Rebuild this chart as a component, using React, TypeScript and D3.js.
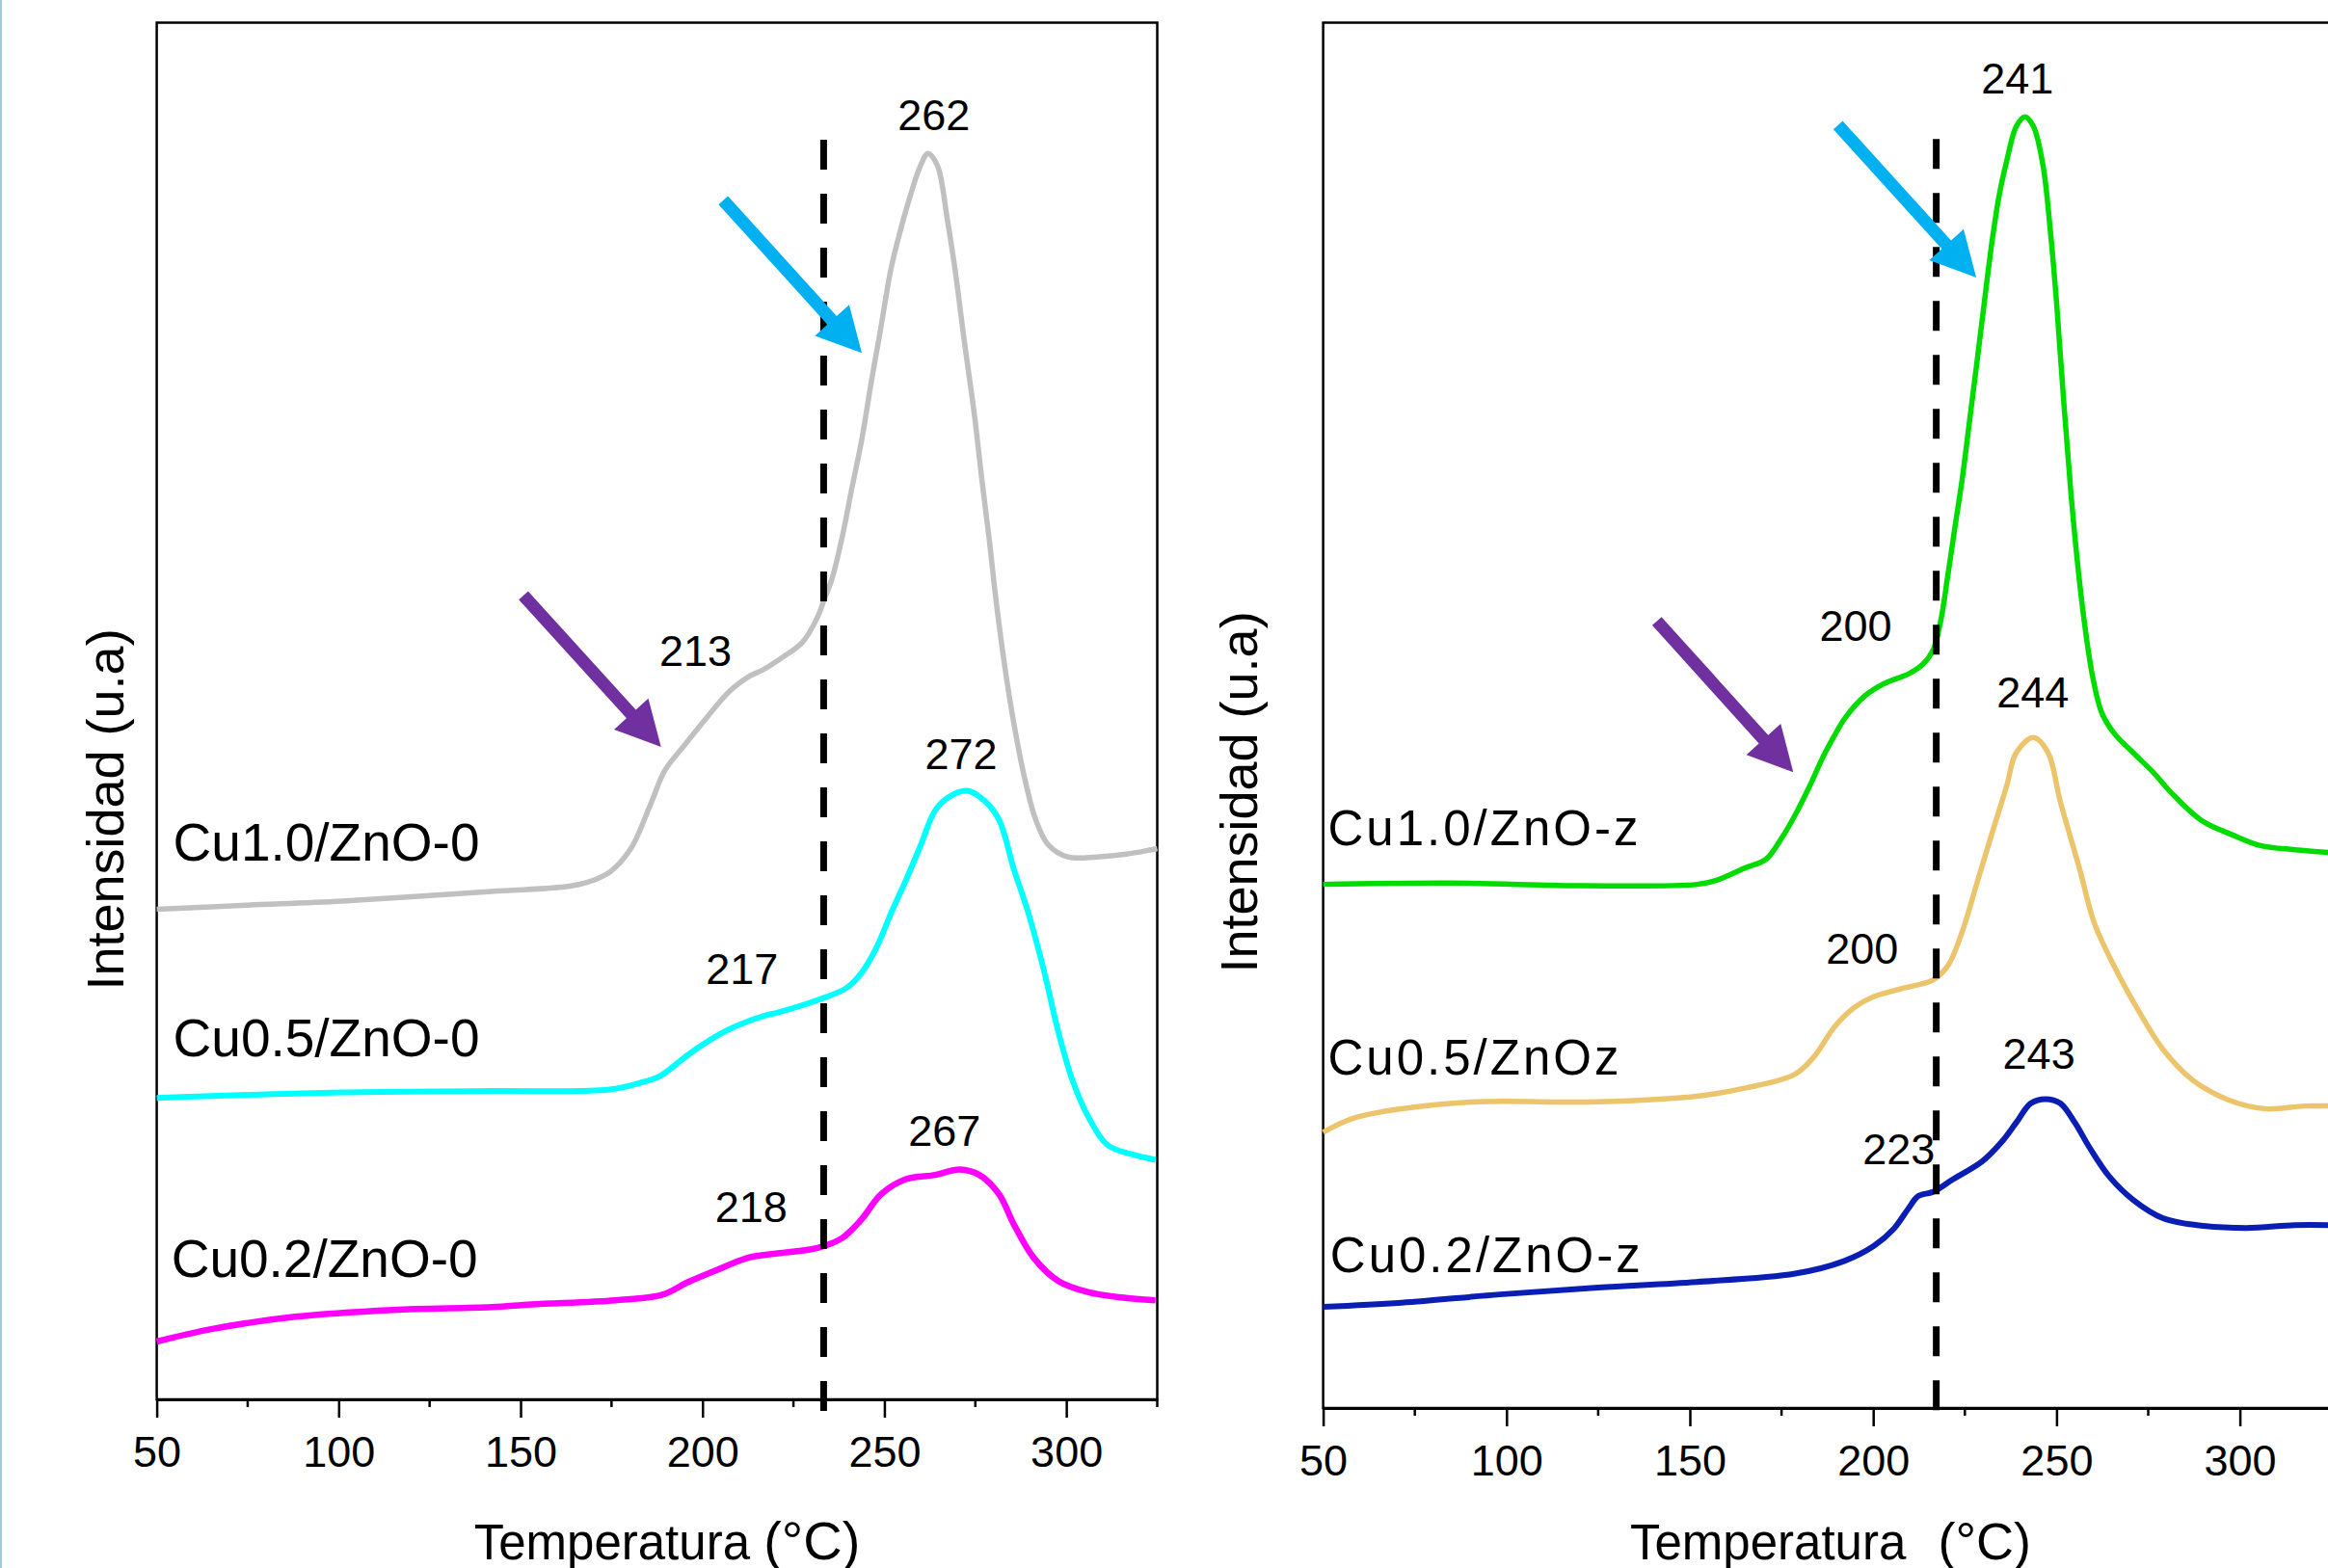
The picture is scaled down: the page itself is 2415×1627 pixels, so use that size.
import React, { useEffect, useRef } from 'react'
import * as d3 from 'd3'

const width = 2415
const height = 1627
const font = '"Liberation Sans", Arial, sans-serif'

// temperature (°C) vs intensity (a.u., 0-100 of the frame height)
const cu10_0: [number, number][] = [
  [50, 35.6], [75, 35.9], [101, 36.2], [142, 36.9], [166, 37.4], [174.5, 38.3], [180.3, 40.0],
  [185.7, 43.2], [189.7, 45.7], [195, 47.5], [200.5, 49.3], [207.3, 51.4], [212.7, 52.5],
  [216.7, 53.0], [222, 53.9], [227.5, 55.0], [231.6, 56.8], [233.6, 58.2], [235.6, 59.6],
  [238.3, 62.5], [241, 66.1], [243.7, 69.6], [246.4, 73.9], [249, 77.8], [251.8, 82.1],
  [254.5, 85.0], [257.2, 87.5], [259.9, 89.6], [262, 90.5], [264.6, 89.6], [267.3, 85.7],
  [269.4, 82.1], [272, 76.8], [274.8, 71.4], [276.8, 66.8], [278.8, 62.5], [280.8, 57.8],
  [283.5, 52.5], [286.2, 48.2], [289, 44.6], [291.6, 42.1], [295, 40.3], [300.4, 39.4],
  [308.5, 39.4], [316.5, 39.6], [325, 40.0],
]
const cu05_0: [number, number][] = [
  [50, 21.9], [101, 22.3], [142, 22.4], [174.4, 22.5], [183, 23.0], [188.4, 23.5], [196.4, 25.1],
  [204.6, 26.5], [210, 27.2], [217.5, 27.9], [220.7, 28.1], [231.6, 29.0], [239.7, 29.9],
  [243.8, 31.0], [247.8, 32.8], [251.8, 35.3], [255.9, 37.7], [259.9, 40.2], [264, 42.8],
  [268, 43.8], [272.8, 44.2], [277.4, 43.5], [281.5, 42.1], [285.6, 38.5], [289.6, 35.3],
  [293.7, 31.3], [297.8, 26.7], [301.8, 23.1], [305.9, 20.6], [311.2, 18.5], [318, 17.8],
  [324.5, 17.4],
]
const cu02_0: [number, number][] = [
  [50, 4.2], [65, 5.1], [88, 6.0], [115, 6.5], [142, 6.7], [153, 6.9], [176, 7.2], [189, 7.6],
  [195.9, 8.5], [204, 9.4], [212.7, 10.3], [220.7, 10.6], [231.6, 11.0], [238.3, 11.7],
  [243.8, 13.1], [249.1, 14.9], [255.9, 16.0], [264, 16.3], [270.7, 16.7], [276.1, 16.3],
  [281.5, 14.9], [285.6, 12.7], [291, 10.3], [297.8, 8.6], [305.9, 7.8], [315.2, 7.4],
  [324.5, 7.2],
]

const cu10_z: [number, number][] = [
  [50, 37.8], [85, 37.9], [121, 37.7], [152, 37.8], [157.3, 38.1], [165.2, 39.0], [170.7, 39.6],
  [174.7, 41.0], [178.7, 42.8], [182.5, 44.8], [186.5, 47.1], [190, 48.8], [192.3, 49.8],
  [197.7, 51.4], [203, 52.3], [209.7, 53.0], [213.6, 53.7], [216.3, 54.7], [218.4, 56.8],
  [220.3, 60.0], [222.3, 63.6], [224.3, 67.1], [226.3, 71.3], [228.3, 75.5], [230.3, 79.8],
  [232.3, 84.0], [234.4, 87.6], [236.4, 90.0], [239, 92.5], [241.4, 93.2], [243.7, 92.5],
  [246.3, 89.7], [248.3, 85.0], [250, 79.8], [252, 72.5], [254, 65.8], [256, 60.3],
  [257.7, 56.5], [259.7, 53.0], [262.3, 50.2], [265.7, 48.7], [270.9, 47.3], [276.3, 45.9],
  [281.7, 44.3], [289.6, 42.4], [297.7, 41.4], [305.6, 40.6], [315, 40.3], [324.5, 40.1],
]
const cu05_z: [number, number][] = [
  [50, 19.9], [58, 20.9], [71.4, 21.6], [91.5, 22.1], [125, 22.1], [151.8, 22.5], [165.2, 23.1],
  [178.7, 24.1], [184, 25.4], [189.4, 27.5], [194.8, 28.9], [200.2, 29.7], [208.2, 30.3],
  [216.3, 30.9], [220.3, 31.9], [224.3, 34.4], [228.3, 37.9], [232.3, 41.4], [236.4, 44.9],
  [239, 47.3], [243.7, 48.4], [247.7, 47.3], [251, 43.8], [256.3, 38.9], [260.3, 35.0],
  [265.7, 31.9], [272.3, 28.7], [279, 25.9], [287, 23.7], [296.3, 22.3], [307, 21.6],
  [317.6, 21.8], [324.5, 21.8],
]
const cu02_z: [number, number][] = [
  [50, 7.3], [71.4, 7.6], [98.2, 8.2], [125, 8.7], [151.8, 9.1], [178.7, 9.7],
  [192, 10.6], [200.2, 11.7], [205.5, 12.9], [209.6, 14.4], [212.3, 15.3], [216.3, 15.6],
  [221.7, 16.5], [229.7, 17.8], [235, 19.2], [239, 20.6], [243, 22.0], [247, 22.3], [251, 22.0],
  [255, 20.6], [259, 18.8], [264.4, 16.7], [271, 15.0], [279, 13.7], [288.3, 13.2],
  [301.7, 13.0], [315, 13.2], [324.5, 13.2],
]

const xDomain = [50, 325]
const yDomain = [0, 100]
const majorTicks = [50, 100, 150, 200, 250, 300]
const minorTicks = [75, 125, 175, 225, 275, 325]

// peak annotations: text, temperature, intensity
const peaksLeft: [string, number, number][] = [
  ['262', 263.6, 92.2], ['213', 198.1, 53.3], ['272', 271.1, 45.8],
  ['217', 210.9, 30.2], ['267', 266.5, 18.4], ['218', 213.4, 12.9],
]
const peaksRight: [string, number, number][] = [
  ['241', 239.3, 94.9], ['200', 195.2, 55.4], ['244', 243.5, 50.6],
  ['200', 197.0, 32.1], ['243', 245.2, 24.5], ['223', 207.0, 17.6],
]

const namesLeft = ['Cu1.0/ZnO-0', 'Cu0.5/ZnO-0', 'Cu0.2/ZnO-0']
const namesRight = ['Cu1.0/ZnO-z', 'Cu0.5/ZnOz', 'Cu0.2/ZnO-z']
const nameAnchorsLeft: [number, number][] = [[54.5, 39.1], [54.5, 24.9], [54.0, 8.9]]
const nameAnchorsRight: [number, number][] = [[51.3, 40.6], [51.3, 24.1], [51.9, 9.8]]

// arrows: from (T, I) to (T, I)
const arrowsLeft: [number, number, number, number, string][] = [
  [205.7, 87.1, 243.8, 76.0, '#00b0f0'],
  [150.8, 58.4, 188.6, 47.4, '#7030a0'],
]
const arrowsRight: [number, number, number, number, string][] = [
  [190.4, 92.6, 228.1, 81.6, '#00b0f0'],
  [141.0, 56.8, 178.2, 45.9, '#7030a0'],
]

const panels = [
  {
    left: 162.6, right: 1200.5, top: 23.5, bottom: 1452,
    series: [
      { data: cu10_0, color: '#c0c0c0', w: 5.5 },
      { data: cu05_0, color: '#00ffff', w: 6 },
      { data: cu02_0, color: '#ff00ff', w: 6.5 },
    ],
    names: namesLeft, nameAnchors: nameAnchorsLeft, nameSize: 55, nameSpacing: 0,
    peaks: peaksLeft, arrows: arrowsLeft,
    dash: { t: 233.3, from: 91.5, to: -0.85 },
    xTitle: { x: 692, gap: 0, size2: 56 },
    yTitle: { x: 127.6, y: 840 },
  },
  {
    left: 1372.6, right: 2418.7, top: 23.5, bottom: 1461,
    series: [
      { data: cu10_z, color: '#00dc00', w: 5.5 },
      { data: cu05_z, color: '#ecc46c', w: 5.5 },
      { data: cu02_z, color: '#0a1eb4', w: 6 },
    ],
    names: namesRight, nameAnchors: nameAnchorsRight, nameSize: 51, nameSpacing: 3,
    peaks: peaksRight, arrows: arrowsRight,
    dash: { t: 217.2, from: 91.6, to: -0.2 },
    xTitle: { x: 1899, gap: 19, size2: 54 },
    yTitle: { x: 1303.6, y: 822 },
  },
]

function arrowPoints(x0: number, y0: number, x1: number, y1: number) {
  const shaft = 13
  const headLen = 46
  const headHalf = 24
  const L = Math.hypot(x1 - x0, y1 - y0)
  const ux = (x1 - x0) / L
  const uy = (y1 - y0) / L
  const nx = -uy
  const ny = ux
  const bx = x1 - ux * headLen
  const by = y1 - uy * headLen
  const s = shaft / 2
  return [
    [x0 + nx * s, y0 + ny * s],
    [bx + nx * s, by + ny * s],
    [bx + nx * headHalf, by + ny * headHalf],
    [x1, y1],
    [bx - nx * headHalf, by - ny * headHalf],
    [bx - nx * s, by - ny * s],
    [x0 - nx * s, y0 - ny * s],
  ]
    .map((p) => p.join(','))
    .join(' ')
}

const App = () => {
  const svgRef = useRef<SVGSVGElement>(null)

  useEffect(() => {
    const svg = d3.select(svgRef.current)
    svg.selectAll('*').remove()

    svg.append('rect').attr('width', width).attr('height', height).attr('fill', '#fff')
    // thin border at the left edge of the picture
    svg.append('line').attr('x1', 1).attr('x2', 1).attr('y1', 0).attr('y2', height)
      .attr('stroke', '#9fcbd8').attr('stroke-width', 2)

    panels.forEach((p) => {
      const x = d3.scaleLinear().domain(xDomain).range([p.left, p.right])
      const y = d3.scaleLinear().domain(yDomain).range([p.bottom, p.top])
      const g = svg.append('g')

      // frame
      g.append('rect')
        .attr('x', p.left).attr('y', p.top)
        .attr('width', p.right - p.left).attr('height', p.bottom - p.top)
        .attr('fill', 'none').attr('stroke', '#000').attr('stroke-width', 2.5)

      // traces
      const line = d3.line<[number, number]>()
        .x((d) => x(d[0]))
        .y((d) => y(d[1]))
        .curve(d3.curveCatmullRom.alpha(0.5))
      p.series.forEach((s) => {
        g.append('path')
          .attr('d', line(s.data))
          .attr('fill', 'none')
          .attr('stroke', s.color)
          .attr('stroke-width', s.w)
          .attr('stroke-linejoin', 'round')
      })

      // dashed reference line
      g.append('line')
        .attr('x1', x(p.dash.t)).attr('x2', x(p.dash.t))
        .attr('y1', y(p.dash.from)).attr('y2', y(p.dash.to))
        .attr('stroke', '#000').attr('stroke-width', 7)
        .attr('stroke-dasharray', '31 25')

      // bottom axis
      const axis = g.append('g')
        .attr('transform', `translate(0,${p.bottom})`)
        .call(d3.axisBottom(x).tickValues(majorTicks).tickSize(19).tickPadding(19).tickSizeOuter(0))
      axis.attr('font-size', null).attr('font-family', null)
      axis.select('.domain').attr('stroke-width', 3)
      axis.selectAll('.tick line').attr('stroke-width', 2.5)
      axis.selectAll('.tick text')
        .attr('font-size', 45).attr('font-family', font).attr('fill', '#000')
      g.selectAll('line.minor')
        .data(minorTicks)
        .join('line')
        .attr('class', 'minor')
        .attr('x1', (d) => x(d)).attr('x2', (d) => x(d))
        .attr('y1', p.bottom).attr('y2', p.bottom + 8)
        .attr('stroke', '#000').attr('stroke-width', 2.5)

      // arrows
      p.arrows.forEach((a) => {
        g.append('polygon')
          .attr('points', arrowPoints(x(a[0]), y(a[1]), x(a[2]), y(a[3])))
          .attr('fill', a[4])
      })

      // peak labels
      g.selectAll('text.peak')
        .data(p.peaks)
        .join('text')
        .attr('class', 'peak')
        .attr('x', (d) => x(d[1]))
        .attr('y', (d) => y(d[2]))
        .attr('text-anchor', 'middle')
        .attr('font-family', font)
        .attr('font-size', 45)
        .attr('fill', '#000')
        .text((d) => d[0])

      // series names
      g.selectAll('text.name')
        .data(p.names)
        .join('text')
        .attr('class', 'name')
        .attr('x', (d, i) => x(p.nameAnchors[i][0]))
        .attr('y', (d, i) => y(p.nameAnchors[i][1]))
        .attr('font-family', font)
        .attr('font-size', p.nameSize)
        .attr('letter-spacing', p.nameSpacing)
        .attr('fill', '#000')
        .text((d) => d)

      // axis titles
      const xt = g.append('text')
        .attr('x', p.xTitle.x).attr('y', 1618)
        .attr('text-anchor', 'middle')
        .attr('font-family', font).attr('font-size', 51).attr('fill', '#000')
      xt.append('tspan').text('Temperatura ')
      xt.append('tspan').attr('dx', p.xTitle.gap).attr('font-size', p.xTitle.size2).text('(°C)')

      g.append('text')
        .attr('transform', `translate(${p.yTitle.x},${p.yTitle.y}) rotate(-90)`)
        .attr('text-anchor', 'middle')
        .attr('font-family', font).attr('font-size', 54).attr('fill', '#000')
        .text('Intensidad (u.a)')
    })
  }, [])

  return (
    <div style={{ position: 'absolute', left: 0, top: 0, width, height, overflow: 'hidden' }}>
      <svg ref={svgRef} width={width} height={height} style={{ display: 'block' }}></svg>
    </div>
  )
}

export default App
